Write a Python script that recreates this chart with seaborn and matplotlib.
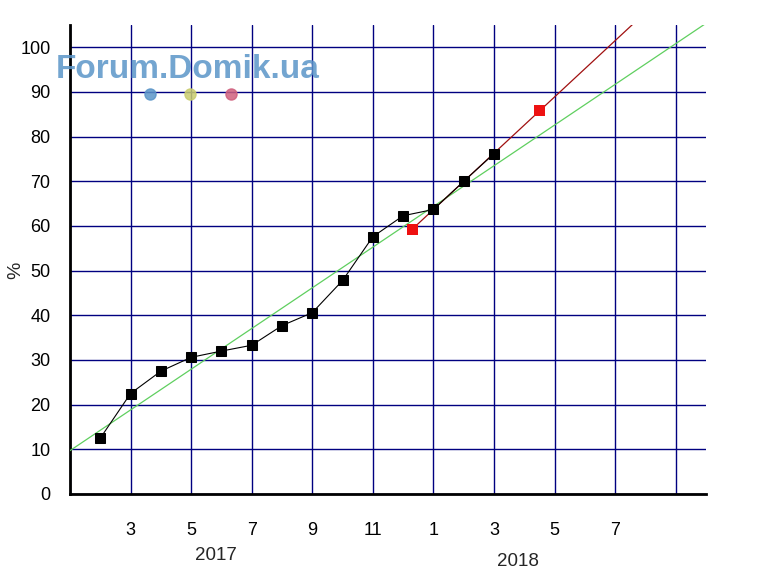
import numpy as np
import matplotlib.pyplot as plt
import seaborn as sns

# Данные (месяц: 1 = январь 2017, 13 = январь 2018)
months = [2, 3, 4, 5, 6, 7, 8, 9, 10, 11, 12, 13, 14, 15]
percent = [12.5, 22.5, 27.5, 30.6, 32.0, 33.3, 37.7, 40.6, 47.8, 57.6, 62.3, 63.7, 70.0, 76.2]
red_months = [12.3, 16.5]
red_percent = [59.3, 85.8]

tick_pos = [1, 3, 5, 7, 9, 11, 13, 15, 17, 19, 21]
tick_labels = ["", "3", "5", "7", "9", "11", "1", "3", "5", "7", ""]
y_ticks = list(range(0, 101, 10))

X_MIN, X_MAX = 1, 22
Y_MIN, Y_MAX = 0, 105

sns.set_style("white")
plt.rcParams["font.family"] = ["Liberation Sans", "DejaVu Sans"]

fig = plt.figure(figsize=(7.82, 5.83), dpi=100)
ax = fig.add_axes([70 / 782, 1 - 494 / 583, 636 / 782, 469 / 583])
ax.set_xlim(X_MIN, X_MAX)
ax.set_ylim(Y_MIN, Y_MAX)

# Зелёная линия: линейная регрессия по чёрным точкам
sns.regplot(x=months, y=percent, scatter=False, ci=None, truncate=False,
            color="#5fcf5f", line_kws={"lw": 0.9, "zorder": 3}, ax=ax)

# Красная линия: регрессия по последним точкам + красным
fit_x = np.array(red_months + months[-3:])
fit_y = np.array(red_percent + percent[-3:])
coef = np.polyfit(fit_x, fit_y, 1)
xx = np.array([fit_x.min(), X_MAX])
sns.lineplot(x=xx, y=np.polyval(coef, xx), color="#a01010", lw=0.9, ax=ax, zorder=4)

# Чёрная серия
sns.lineplot(x=months, y=percent, color="black", lw=0.8, marker="s",
             markersize=6.5, markeredgecolor="black", ax=ax, zorder=5)

# Красные точки
sns.scatterplot(x=red_months, y=red_percent, color="#ee1111", marker="s",
                s=62, edgecolor="none", ax=ax, zorder=6)

ax.set_xlim(X_MIN, X_MAX)
ax.set_ylim(Y_MIN, Y_MAX)

ax.set_xticks(tick_pos)
ax.set_xticklabels(tick_labels)
ax.set_xticks(range(2, 23, 2), minor=True)
ax.set_yticks(y_ticks)
ax.set_yticks(range(5, 106, 10), minor=True)

ax.grid(True, which="major", color="#000080", lw=1)
ax.set_axisbelow(True)

sns.despine(ax=ax)
for side in ["left", "bottom"]:
    ax.spines[side].set_linewidth(2)
    ax.spines[side].set_color("black")

ax.tick_params(which="major", direction="out", length=8, width=1.6,
               labelsize=13, colors="black")
ax.tick_params(which="minor", direction="out", length=4, width=1.6)
ax.tick_params(axis="x", which="major", pad=12)
ax.tick_params(axis="y", which="major", pad=6)

ax.set_xlabel(None)
ax.set_ylabel(None)
fig.text(16 / 782, 1 - 270 / 583, "%", rotation=90, ha="center", va="center",
         fontsize=14)

fig.text(216 / 782, 1 - 555 / 583, "2017", ha="center", va="center", fontsize=13.5)
fig.text(518 / 782, 1 - 561 / 583, "2018", ha="center", va="center", fontsize=13.5)

# Водяной знак
fig.text(188 / 782, 1 - 69 / 583, "Forum.Domik.ua", ha="center", va="center",
         fontsize=24, fontweight="bold", color="#5b95c8", alpha=0.85, zorder=10)
for px, c in [(150, "#5b95c8"), (190, "#c9cc6e"), (231, "#d0607e")]:
    ax.plot([px / 782], [1 - 94 / 583], marker="o", markersize=8, color=c,
            alpha=0.85, transform=fig.transFigure, clip_on=False, zorder=10)

plt.savefig("out.png", dpi=100)
